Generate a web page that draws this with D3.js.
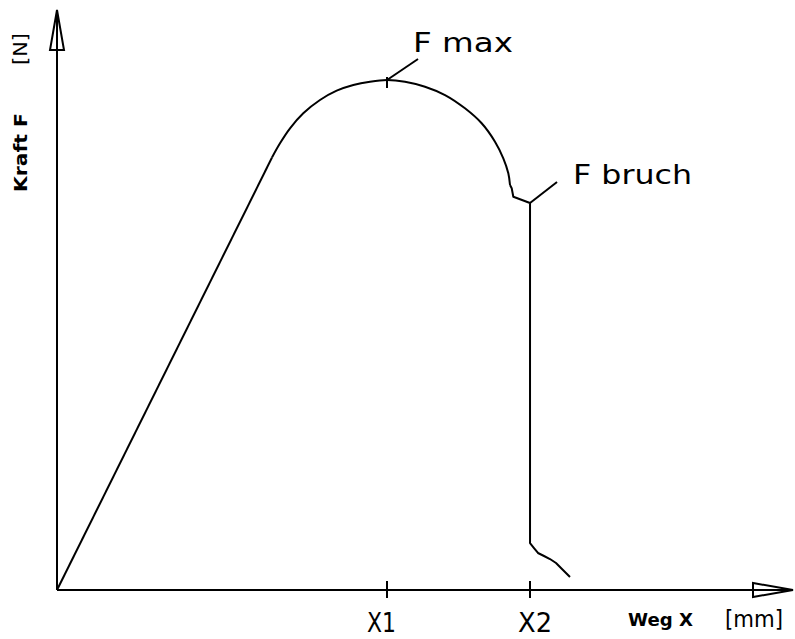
<!DOCTYPE html>
<html>
<head>
<meta charset="utf-8">
<script src="https://cdn.jsdelivr.net/npm/d3@7"></script>
<style>
  html, body { margin: 0; padding: 0; background: #fff; }
  svg { display: block; }
  text { font-family: "DejaVu Sans", sans-serif; fill: #000; }
</style>
</head>
<body>
<svg id="chart" width="795" height="639"></svg>
<script>
// ---- data (Weg X in % of axis length, Kraft F in % of axis length) ----
const riseX = [0, 29.21];
const riseY = [0, 74.57];
const domeX = [29.21, 30.30, 31.66, 33.46, 35.73, 38.00, 40.26, 42.53, 44.84, 47.28, 50.00, 52.72, 55.43, 57.70, 59.51, 60.64, 61.32, 61.55];
const domeY = [74.57, 77.02, 79.60, 82.19, 84.48, 86.09, 87.07, 87.64, 87.93, 87.64, 86.78, 85.34, 83.05, 80.47, 77.29, 74.43, 71.84, 69.83];
const tailX = [61.55, 61.78, 62.00, 64.27, 64.27, 64.81, 65.35, 66.17, 66.98, 67.80, 68.61, 69.70];
const tailY = [69.83, 69.26, 67.81, 66.72, 8.10, 7.24, 6.38, 5.86, 5.34, 4.66, 3.62, 2.24];
const tickNames = ["X1", "X2"];
const tickValues = [44.84, 64.27];
const fMax = [44.84, 87.93];
const fBruch = [64.27, 66.72];
const labels = { fmax: "F  max", fbruch: "F  bruch", xTitle: "Weg  X", xUnit: "[mm]", yTitle: "Kraft F", yUnit: "[N]" };

const svg = d3.select("#chart");
const x = d3.scaleLinear().domain([0, 100]).range([57, 793]);
const y = d3.scaleLinear().domain([0, 100]).range([590, 10]);
const SW = 2;

const zip = (a, b) => a.map((v, i) => [v, b[i]]);
const lineLin = d3.line().x(d => x(d[0])).y(d => y(d[1]));
const lineSmooth = d3.line().x(d => x(d[0])).y(d => y(d[1])).curve(d3.curveCatmullRom.alpha(0.5));

// axes
const g = svg.append("g").attr("stroke", "#000").attr("stroke-width", SW).attr("fill", "none");
g.append("line").attr("x1", x(0)).attr("y1", y(0)).attr("x2", x(100)).attr("y2", y(0));
g.append("line").attr("x1", x(0)).attr("y1", y(0)).attr("x2", x(0)).attr("y2", y(100));
// arrowheads (hollow)
const aL = 40, aW = 7;
g.append("path").attr("stroke-linejoin", "miter")
  .attr("d", `M${x(100)},${y(0)} L${x(100) - aL},${y(0) - aW} L${x(100) - aL},${y(0) + aW} Z`);
g.append("path").attr("stroke-linejoin", "miter")
  .attr("d", `M${x(0)},${y(100)} L${x(0) - aW},${y(100) + aL} L${x(0) + aW},${y(100) + aL} Z`);

// ticks
tickValues.forEach(v => {
  g.append("line").attr("x1", x(v)).attr("x2", x(v)).attr("y1", y(0) - 9).attr("y2", y(0) + 8);
});

// curve
g.append("path").attr("d", lineLin(zip(riseX, riseY)));
g.append("path").attr("d", lineSmooth(zip(domeX, domeY)));
g.append("path").attr("stroke-linejoin", "round").attr("d", lineLin(zip(tailX, tailY)));

// F max marker + leader
g.append("line").attr("x1", x(fMax[0])).attr("x2", x(fMax[0])).attr("y1", y(fMax[1]) - 3).attr("y2", y(fMax[1]) + 8);
g.append("line").attr("x1", x(fMax[0])).attr("y1", y(fMax[1])).attr("x2", x(fMax[0]) + 31).attr("y2", y(fMax[1]) - 21);
// F bruch leader
g.append("line").attr("x1", x(fBruch[0])).attr("y1", y(fBruch[1])).attr("x2", x(fBruch[0]) + 27).attr("y2", y(fBruch[1]) - 21);

// labels
const txt = (str, tx, ty, size, len, weight) => {
  const t = svg.append("text").attr("x", tx).attr("y", ty).attr("font-size", size).text(str);
  if (len) t.attr("textLength", len).attr("lengthAdjust", "spacingAndGlyphs");
  if (weight) t.attr("font-weight", weight);
  return t;
};
txt(labels.fmax, x(fMax[0]) + 26, y(fMax[1]) - 28, 27, 100);
txt(labels.fbruch, x(fBruch[0]) + 43, y(fBruch[1]) - 19, 27, 119);
tickValues.forEach((v, i) => {
  txt(tickNames[i], x(v) + (i === 0 ? -20 : -12), 632, 27, i === 0 ? 29 : 34);
});
txt(labels.xTitle, 628, 626, 18, 65, "bold");
txt(labels.xUnit, 725, 627, 23, 58);

svg.append("text").attr("transform", "translate(27,192) rotate(-90)")
  .attr("font-size", 17).attr("font-weight", "bold")
  .attr("textLength", 79).attr("lengthAdjust", "spacingAndGlyphs").text(labels.yTitle);
svg.append("text").attr("transform", "translate(27,65) rotate(-90)")
  .attr("font-size", 19)
  .attr("textLength", 32).attr("lengthAdjust", "spacingAndGlyphs").text(labels.yUnit);
</script>
</body>
</html>
